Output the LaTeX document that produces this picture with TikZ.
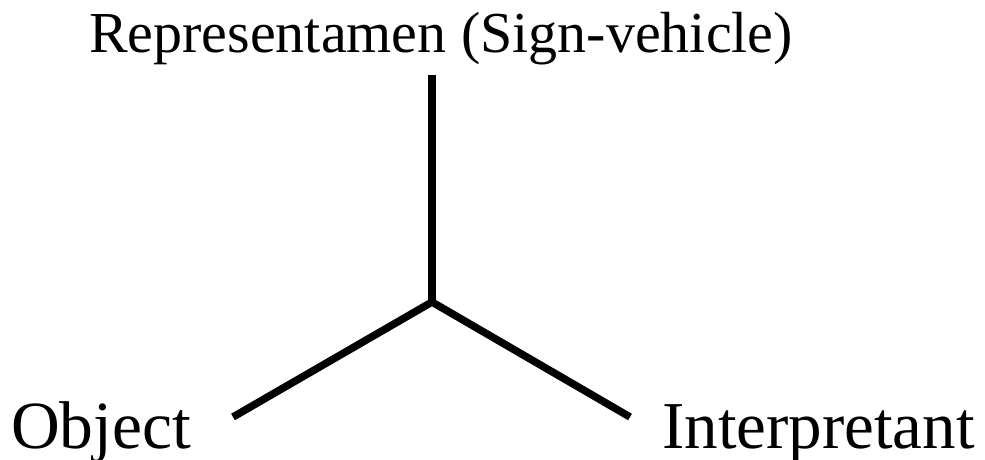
\documentclass[tikz,border=0pt]{standalone}
\usepackage{fontspec}
\setmainfont{Liberation Serif}
\tikzset{
  label text/.style={inner sep=0pt, font=\fontsize{#1}{#1}\selectfont},
  stroke/.style={line width=7.5pt, black, line cap=butt, line join=miter}
}
\begin{document}
\begin{tikzpicture}[x=1pt,y=1pt]
\useasboundingbox (0,0) rectangle (985,459);
\coordinate (j) at (432,157);
\coordinate (t) at (432,384);
\coordinate (l) at (233,42);
\coordinate (r) at (630,42);
\node[label text=58, anchor=base] (rep) at (441,406.5) {Representamen (Sign-vehicle)};
\node[label text=67.5, anchor=base west] (obj) at (11,11) {Object};
\node[label text=67, anchor=base west] (interp) at (662,11) {Interpretant};
\draw[stroke] (t) -- (j);
\draw[stroke] (l) -- (j) -- (r);
\end{tikzpicture}
\end{document}
